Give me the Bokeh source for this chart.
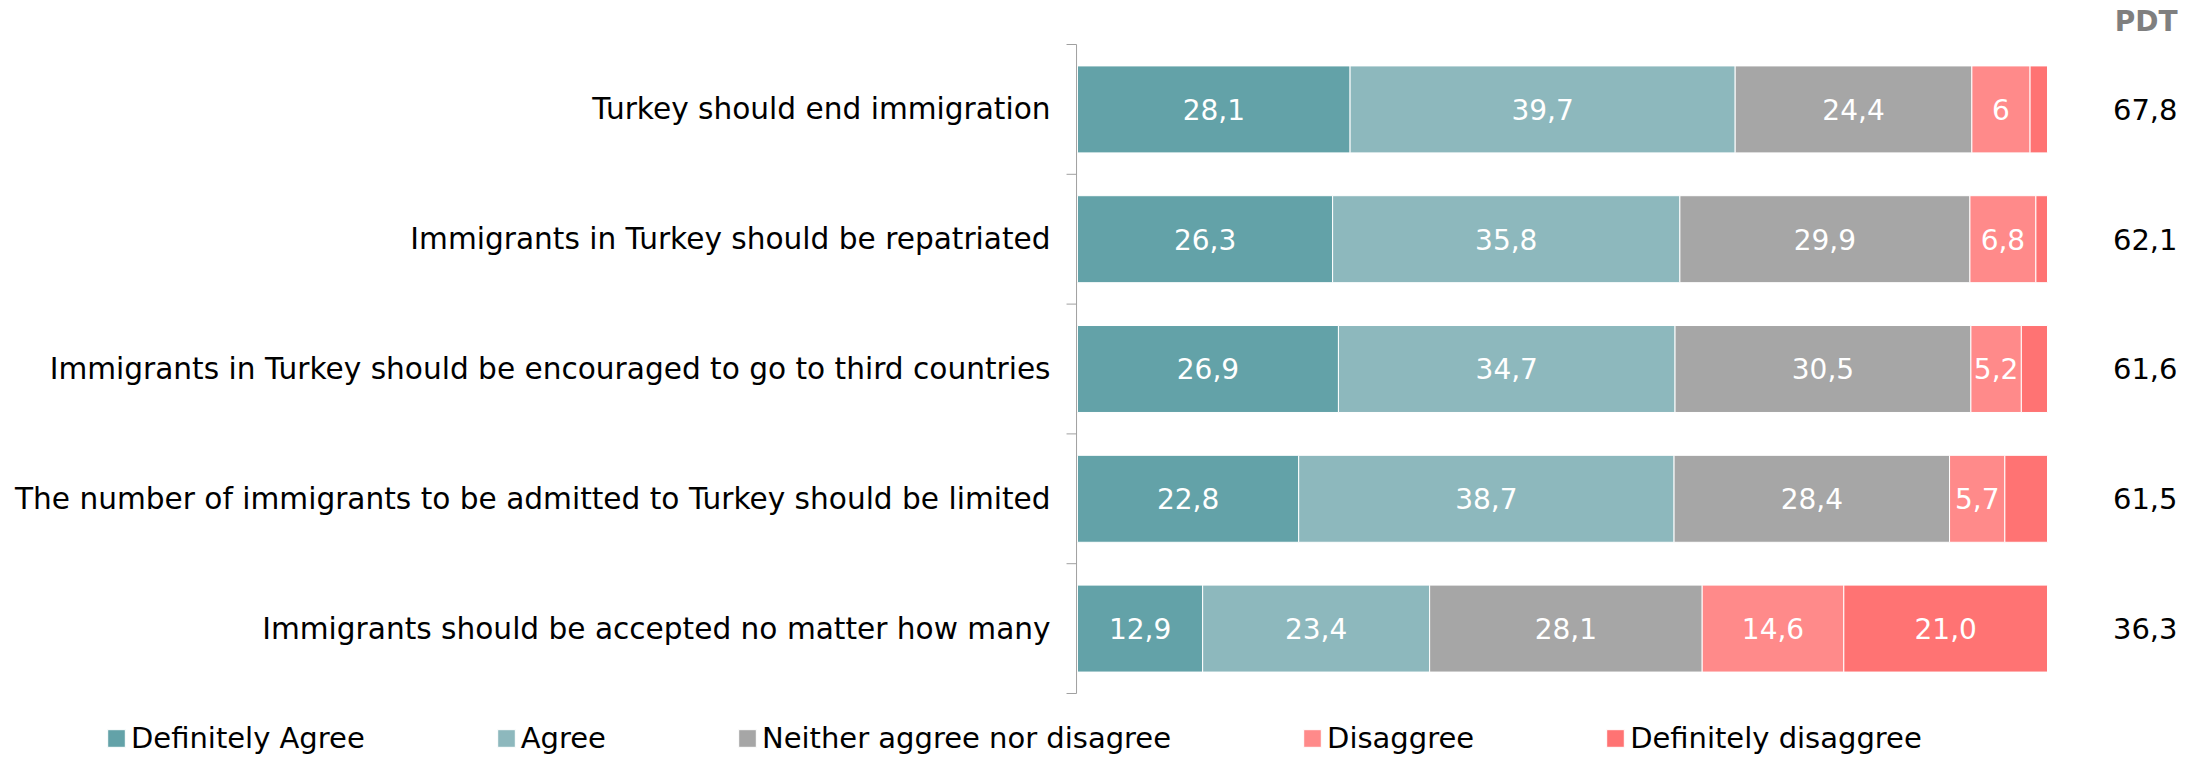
from bokeh.plotting import figure
from bokeh.models import ColumnDataSource, Range1d, Legend, LegendItem
from bokeh.core.properties import value
from bokeh.embed import file_html
from bokeh.resources import INLINE

# ---- data ----
categories = [
    "Turkey should end immigration",
    "Immigrants in Turkey should be repatriated",
    "Immigrants in Turkey should be encouraged to go to third countries",
    "The number of immigrants to be admitted to Turkey should be limited",
    "Immigrants should be accepted no matter how many",
]
definitely_agree = [28.1, 26.3, 26.9, 22.8, 12.9]
agree = [39.7, 35.8, 34.7, 38.7, 23.4]
neither = [24.4, 29.9, 30.5, 28.4, 28.1]
disagree = [6, 6.8, 5.2, 5.7, 14.6]
definitely_disagree = [1.8, 1.2, 2.7, 4.4, 21.0]
pdt = [67.8, 62.1, 61.6, 61.5, 36.3]
series_names = ["Definitely Agree", "Agree", "Neither aggree nor disagree",
                "Disaggree", "Definitely disaggree"]
pdt_header = "PDT"

colors = ["#63A2A8", "#8DB8BD", "#A6A6A6", "#FF8A8A", "#FF7373"]
AXIS_COLOR = "#A0A0A0"
FONT = "DejaVu Sans"

series = [definitely_agree, agree, neither, disagree, definitely_disagree]
keys = ["da", "a", "n", "d", "dd"]
n = len(categories)
ys = [i + 0.5 for i in range(n)]

src = ColumnDataSource(dict(y=ys, **{k: s for k, s in zip(keys, series)}))

# frame covers the whole canvas; 9.70 px per percent, 129.8 px per row
p = figure(width=2187, height=754, output_backend="svg", toolbar_location=None,
           x_range=Range1d(-111.03, 114.43), y_range=Range1d(5.470, -0.339),
           x_axis_location=None, y_axis_location=None,
           min_border_left=0, min_border_right=0, min_border_top=0, min_border_bottom=0)
p.outline_line_color = None
p.xgrid.visible = False
p.ygrid.visible = False

renderers = p.hbar_stack(keys, y="y", height=0.67, color=colors, source=src,
                         line_color="white", line_width=1)

# category axis: line, boundary ticks and labels
axis_x = -0.1
tick_len = 10 / 9.70
p.segment(x0=[axis_x], y0=[0], x1=[axis_x], y1=[n], line_color=AXIS_COLOR, line_width=1)
bounds = list(range(n + 1))
p.segment(x0=[axis_x - tick_len] * len(bounds), y0=bounds, x1=[axis_x] * len(bounds),
          y1=bounds, line_color=AXIS_COLOR, line_width=1)
p.text(x=[axis_x - 26 / 9.70] * n, y=ys, text=categories, text_color="black",
       text_align="right", text_baseline="middle", text_font=value(FONT),
       text_font_size="29.6px")

# segment labels
lx, ly, lt = [], [], []
for i in range(n):
    left = 0.0
    for s in series:
        v = s[i]
        if v >= 5:
            lx.append(left + v / 2)
            ly.append(ys[i])
            lt.append(str(v).replace(".", ","))
        left += v
p.text(x=lx, y=ly, text=lt, text_color="white", text_align="center",
       text_baseline="middle", text_font=value(FONT), text_font_size="28px")

# PDT column
p.text(x=[113.4] * n, y=ys, text=[str(v).replace(".", ",") for v in pdt],
       text_color="black", text_align="right", text_baseline="middle",
       text_font=value(FONT), text_font_size="29px")
p.text(x=[113.4], y=[-0.177], text=[pdt_header], text_color="#7F7F7F",
       text_align="right", text_baseline="middle", text_font=value(FONT),
       text_font_size="28px", text_font_style="bold")

legend = Legend(items=[LegendItem(label=nm, renderers=[r]) for nm, r in zip(series_names, renderers)],
                orientation="horizontal", location=(105, -1), padding=0, margin=0,
                spacing=130, glyph_width=22, glyph_height=22, label_standoff=4,
                label_text_font=FONT, label_text_font_size="29px",
                label_text_color="black", label_text_baseline="middle",
                border_line_alpha=0, background_fill_alpha=0)
p.add_layout(legend)

open("out.html", "w").write(file_html(p, INLINE))
